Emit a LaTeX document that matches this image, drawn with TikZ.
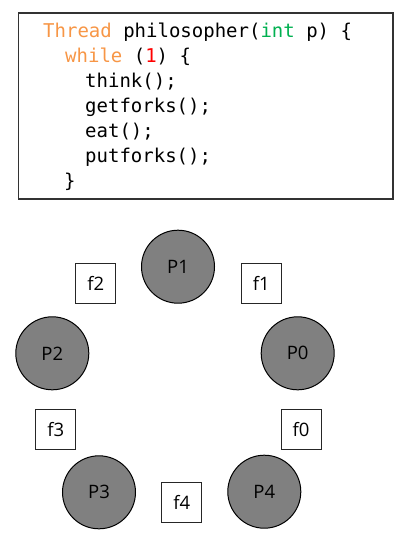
\documentclass[tikz,border=0pt]{standalone}
\usepackage{fontspec}
\setmainfont{Open Sans}
\setmonofont{DejaVu Sans Mono}
\definecolor{kworange}{HTML}{F79646}
\definecolor{kwgreen}{HTML}{00B050}
\definecolor{numred}{HTML}{FF0000}
\definecolor{philgray}{HTML}{808080}
\begin{document}
\begin{tikzpicture}[x=1pt,y=-1pt,
  codeline/.style={anchor=base west,inner sep=0pt,font=\ttfamily\fontsize{19}{19}\selectfont},
  phil/.style={circle,draw=black,line width=1pt,fill=philgray,minimum size=73pt,inner sep=0pt,font=\fontsize{18.5}{18.5}\selectfont},
  fork/.style={rectangle,draw=black!85,line width=1pt,fill=white,minimum size=40pt,inner sep=0pt,font=\fontsize{18.5}{18.5}\selectfont},
  codebox/.style={draw=black!80,line width=1.2pt}]
\useasboundingbox (0,0) rectangle (407,560);
\draw[codebox] (18.5,13) rectangle (393,199);
\node[codeline] (l1) at (43,37) {\textcolor{kworange}{Thread} philosopher(\textcolor{kwgreen}{int} p) \{};
\node[codeline] (l2) at (65,62.5) {\textcolor{kworange}{while} (\textcolor{numred}{1}) \{};
\node[codeline] (l3) at (85,87.5) {think();};
\node[codeline] (l4) at (85,112.5) {getforks();};
\node[codeline] (l5) at (85,137.5) {eat();};
\node[codeline] (l6) at (85,162.5) {putforks();};
\node[codeline] (l7) at (64,187.5) {\}};
\node[phil] (P1) at (178,266.7) {P1};
\node[phil] (P2) at (52.3,353.3) {P2};
\node[phil] (P0) at (297.7,353.3) {P0};
\node[phil] (P3) at (99,492.3) {P3};
\node[phil] (P4) at (264.3,491.7) {P4};
\node[fork] (f2) at (95.7,283.3) {f2};
\node[fork] (f1) at (261.3,283.3) {f1};
\node[fork] (f3) at (55.8,429.3) {f3};
\node[fork] (f0) at (301,429.3) {f0};
\node[fork] (f4) at (181.7,502.3) {f4};
\end{tikzpicture}
\end{document}
